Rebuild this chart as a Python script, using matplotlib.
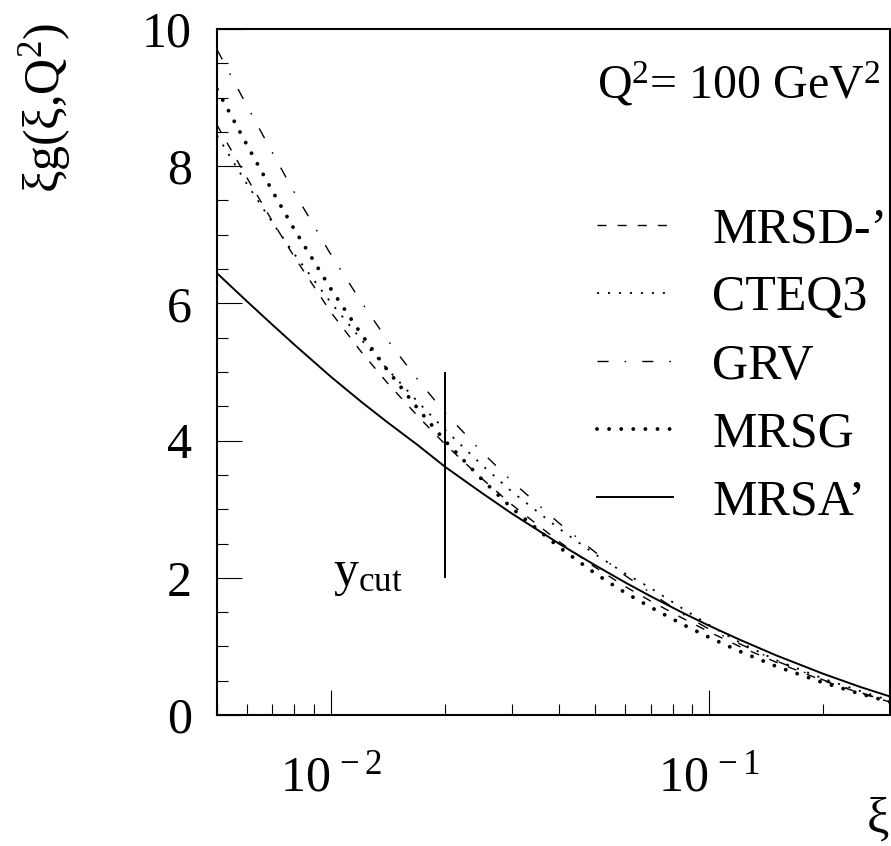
import matplotlib
matplotlib.use("Agg")
import matplotlib.pyplot as plt
from matplotlib.ticker import FixedLocator, MultipleLocator, NullFormatter

# xi values and gluon densities xi*g(xi, Q^2)
xi = [0.005, 0.006, 0.007, 0.008, 0.01, 0.012, 0.014, 0.017, 0.02, 0.025, 0.03,
      0.04, 0.05, 0.06, 0.07, 0.085, 0.1, 0.12, 0.15, 0.2, 0.25, 0.3]
mrsd = [8.60, 7.83, 7.20, 6.68, 5.87, 5.30, 4.86, 4.35, 3.95, 3.45, 3.07,
        2.53, 2.15, 1.87, 1.66, 1.41, 1.21, 1.00, 0.77, 0.50, 0.32, 0.19]
cteq3 = [8.45, 7.74, 7.18, 6.72, 6.01, 5.48, 5.06, 4.56, 4.16, 3.65, 3.26,
         2.72, 2.34, 2.06, 1.85, 1.55, 1.31, 1.06, 0.80, 0.53, 0.35, 0.21]
grv = [9.70, 8.88, 8.20, 7.62, 6.71, 6.03, 5.49, 4.88, 4.41, 3.84, 3.41,
       2.80, 2.37, 2.03, 1.78, 1.47, 1.25, 1.04, 0.79, 0.51, 0.33, 0.19]
mrsg = [9.12, 8.31, 7.64, 7.08, 6.21, 5.56, 5.05, 4.46, 4.00, 3.44, 3.02,
        2.45, 2.06, 1.78, 1.57, 1.32, 1.13, 0.93, 0.71, 0.47, 0.31, 0.19]
mrsa = [6.44, 6.03, 5.69, 5.40, 4.93, 4.57, 4.28, 3.93, 3.62, 3.24, 2.94,
        2.50, 2.18, 1.93, 1.73, 1.49, 1.30, 1.10, 0.87, 0.60, 0.41, 0.27]

labels = ["MRSD-\u2019", "CTEQ3", "GRV", "MRSG", "MRSA\u2019"]

ycut_x = 0.02
ycut_lo, ycut_hi = 2, 5

plt.rcParams["font.family"] = ["Liberation Serif", "DejaVu Serif"]
plt.rcParams["mathtext.fontset"] = "custom"
plt.rcParams["mathtext.rm"] = "Liberation Serif"
plt.rcParams["mathtext.it"] = "Liberation Serif:italic"
plt.rcParams["lines.scale_dashes"] = False

FS = 36

fig = plt.figure(figsize=(8.91, 8.46), dpi=100)
ax = fig.add_axes([217 / 891, 1 - 715 / 846, 673 / 891, 686 / 846])

ax.plot(xi, mrsd, color="black", lw=1.0, dashes=(6.5, 8), label=labels[0])
ax.plot(xi, cteq3, color="black", lw=1.3, dashes=(1.5, 6.4), label=labels[1])
ax.plot(xi, grv, color="black", lw=1.0, dashes=(8, 11.5, 1.2, 11.5), label=labels[2])
ax.plot(xi, mrsg, color="black", lw=2.8, dashes=(0.01, 8.7),
        dash_capstyle="round", label=labels[3])
ax.plot(xi, mrsa, color="black", lw=1.4, label=labels[4])

ax.vlines(ycut_x, ycut_lo, ycut_hi, color="black", lw=1.4)
ax.text(0.0101, 2.05, r"y$_{\mathregular{cut}}$", fontsize=FS, ha="left", va="center")

ax.set_xscale("log")
ax.set_xlim(0.005, 0.3)
ax.set_ylim(0, 10)

ax.xaxis.set_major_locator(FixedLocator([0.01, 0.1]))
ax.set_xticklabels([r"$10^{\,-2}$", r"$10^{\,-1}$"])
ax.xaxis.set_minor_locator(FixedLocator(
    [k * 0.001 for k in range(5, 10)] + [k * 0.01 for k in range(2, 10)] + [0.2, 0.3]))
ax.xaxis.set_minor_formatter(NullFormatter())
ax.yaxis.set_major_locator(MultipleLocator(2))
ax.yaxis.set_minor_locator(MultipleLocator(0.5))

ax.tick_params(which="both", direction="in", top=False, right=False,
               labelsize=FS, width=0.8)
ax.tick_params(which="major", length=18)
ax.tick_params(which="minor", length=8)
ax.tick_params(axis="x", which="major", pad=29)
ax.tick_params(axis="y", which="major", pad=18)
for s in ax.spines.values():
    s.set_linewidth(1.5)

# reference lets the last superscript touch the right edge; keep it just inside
ax.text(0.565, 0.899, r"Q$^2$= 100 GeV$^2$", transform=ax.transAxes,
        fontsize=34.5, ha="left", va="baseline", clip_on=False)

fig.text(45 / 891, 1 - 108 / 846, r"ξg(ξ,Q$^2$)", rotation=90, fontsize=FS,
         ha="center", va="center")
fig.text(878 / 891, 1 - 820 / 846, "ξ", fontsize=FS, ha="center", va="center")

ax.legend(loc="upper left", bbox_to_anchor=(597 / 891, 1 - 207 / 846),
          bbox_transform=fig.transFigure, frameon=False, fontsize=FS,
          handlelength=1.52, handletextpad=0.78, labelspacing=0.43,
          borderpad=0, borderaxespad=0)

fig.savefig("out.png", dpi=100)
plt.close(fig)
